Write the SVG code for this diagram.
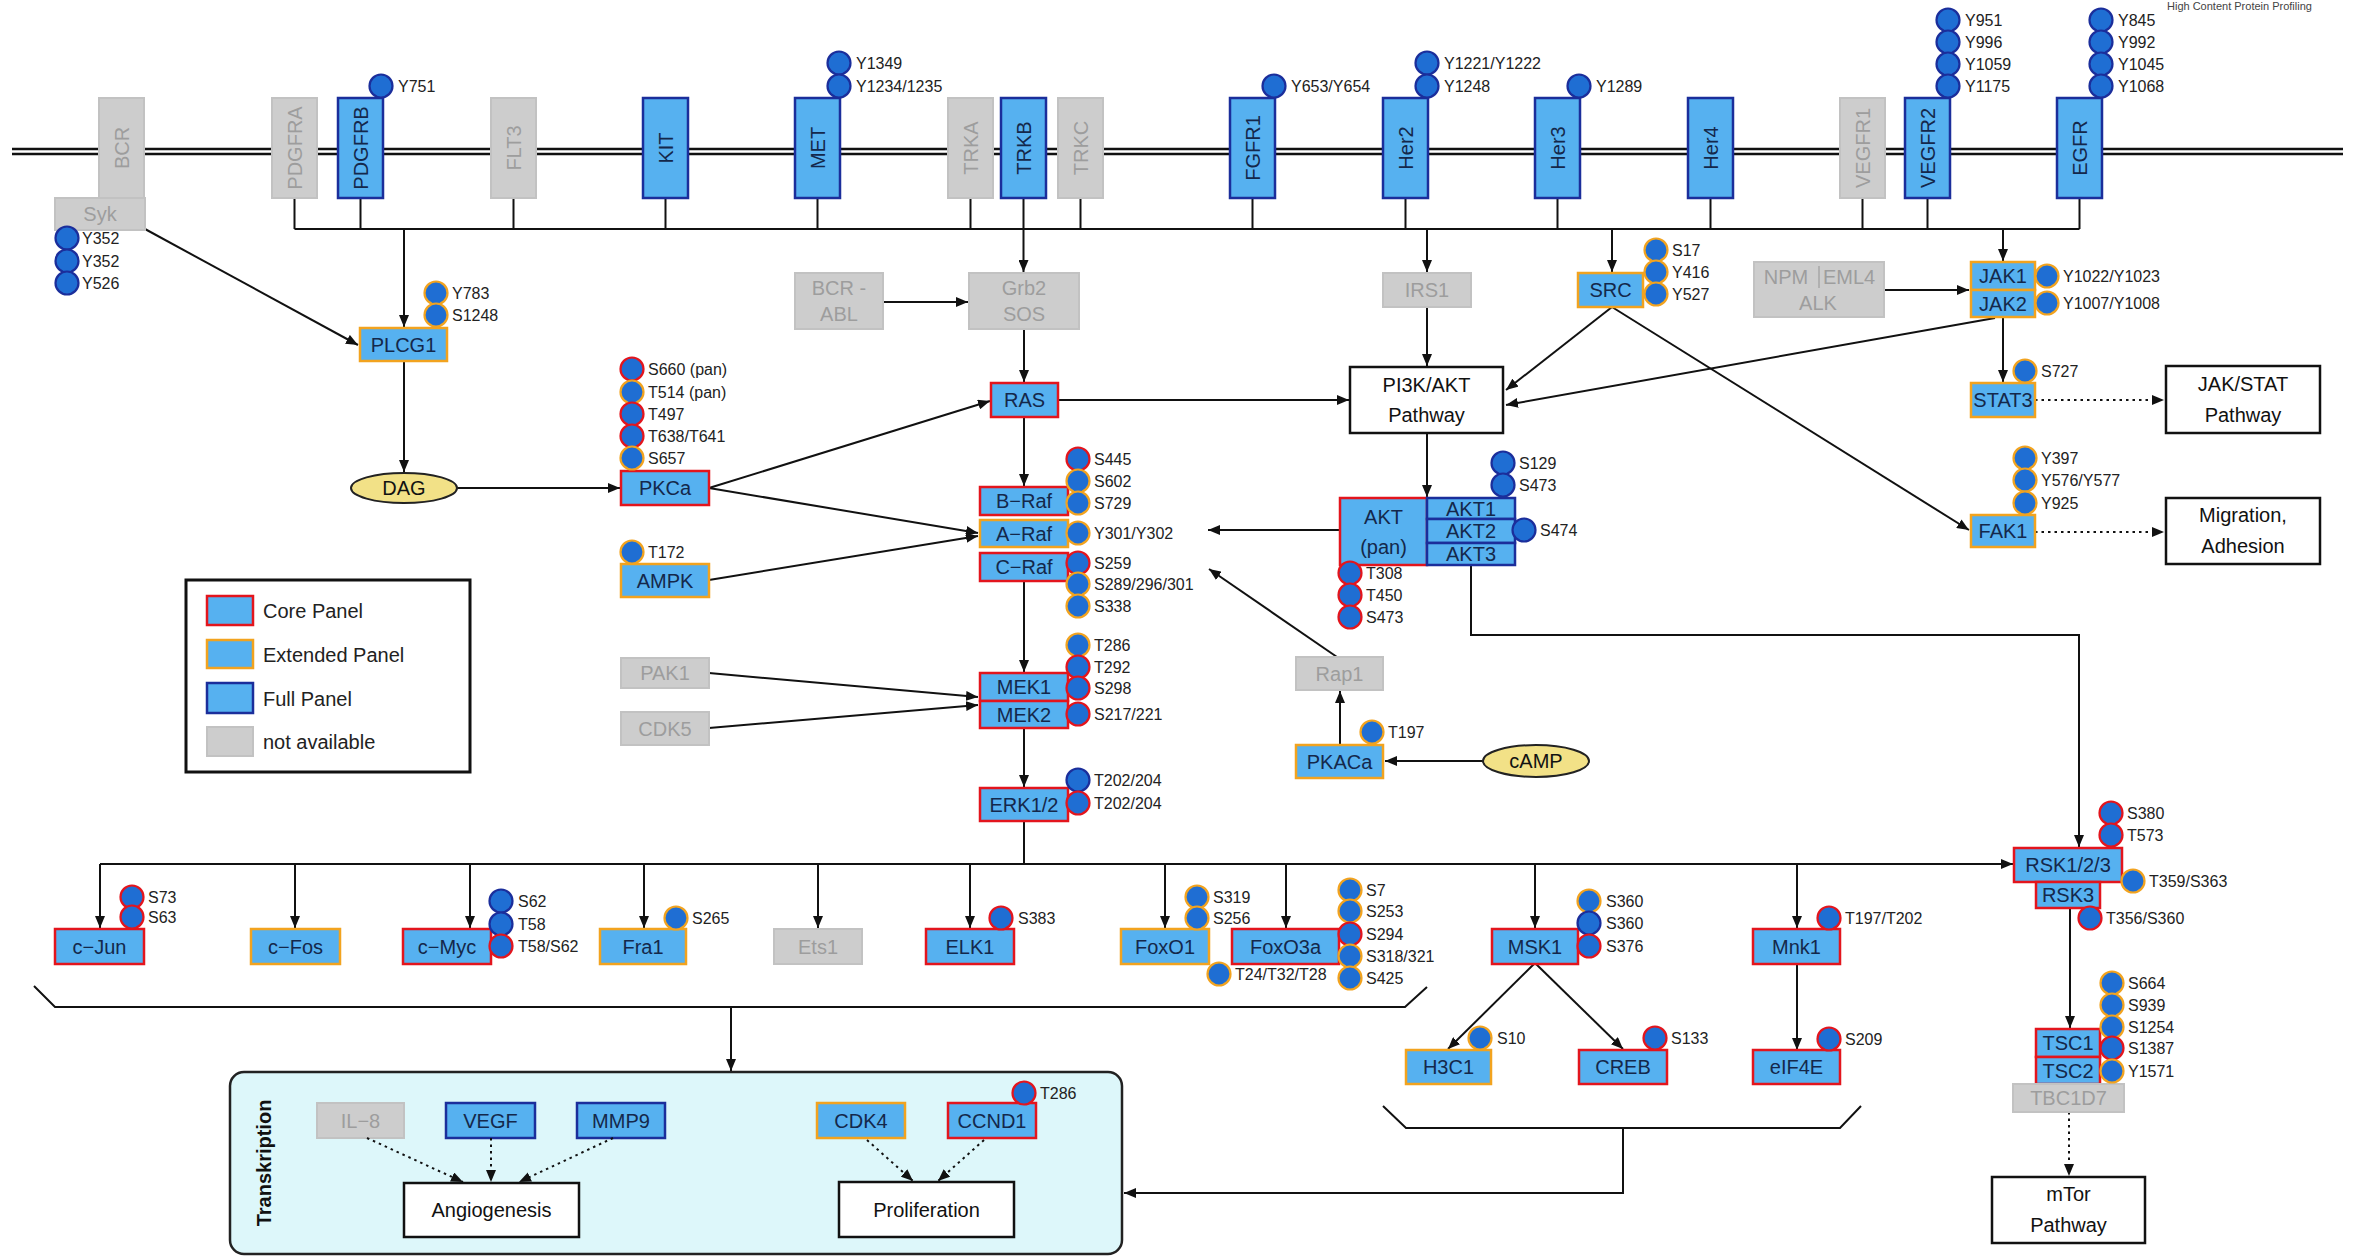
<svg xmlns="http://www.w3.org/2000/svg" width="2354" height="1257" viewBox="0 0 2354 1257">
<defs>
<marker id="ah" viewBox="0 0 12 10" refX="12" refY="5" markerWidth="12" markerHeight="10" markerUnits="userSpaceOnUse" orient="auto"><path d="M0,0 L12,5 L0,10 z" fill="#111"/></marker>
<style>
text{font-family:"Liberation Sans",Arial,Helvetica,sans-serif}
.bx{fill:#56b1f0;stroke-width:2.5}
.core{stroke:#e3151d}
.ext{stroke:#f2a31f}
.full{stroke:#1b2e9b}
.na{fill:#cdcdcd;stroke:#c2c2c2;stroke-width:2}
.pw{fill:#fff;stroke:#111;stroke-width:2.5}
.t{font-size:20px;fill:#14284b;text-anchor:middle;dominant-baseline:central}
.tg{fill:#9d9d9d}
.tb{fill:#111}
.s{font-size:16px;fill:#222;dominant-baseline:central}
.p{fill:#1f6ed3;stroke-width:2.2}
.pr{stroke:#e3151d}.po{stroke:#f2a31f}.pb{stroke:#1b2e9b}
.ln{stroke:#111;stroke-width:2;fill:none}
.ar{marker-end:url(#ah)}
.dt{stroke-dasharray:2.5 4}
.ell{fill:#f2e187;stroke:#222;stroke-width:2}
</style>
</defs>
<rect width="2354" height="1257" fill="#fff"/>
<text x="2167" y="10" style="font-size:11px;fill:#444">High Content Protein Profiling</text>

<g id="membrane">
<line x1="12" y1="149" x2="2343" y2="149" stroke="#111" stroke-width="2.5"/>
<line x1="12" y1="154" x2="2343" y2="154" stroke="#111" stroke-width="2.5"/>
</g>

<g id="connectors">
<line class="ln" x1="294.5" y1="198" x2="294.5" y2="229"/>
<line class="ln" x1="360.5" y1="198" x2="360.5" y2="229"/>
<line class="ln" x1="513.5" y1="198" x2="513.5" y2="229"/>
<line class="ln" x1="665.5" y1="198" x2="665.5" y2="229"/>
<line class="ln" x1="817.5" y1="198" x2="817.5" y2="229"/>
<line class="ln" x1="970.5" y1="198" x2="970.5" y2="229"/>
<line class="ln" x1="1080.5" y1="198" x2="1080.5" y2="229"/>
<line class="ln" x1="1252.5" y1="198" x2="1252.5" y2="229"/>
<line class="ln" x1="1405.5" y1="198" x2="1405.5" y2="229"/>
<line class="ln" x1="1557.5" y1="198" x2="1557.5" y2="229"/>
<line class="ln" x1="1710.5" y1="198" x2="1710.5" y2="229"/>
<line class="ln" x1="1862.5" y1="198" x2="1862.5" y2="229"/>
<line class="ln" x1="1927.5" y1="198" x2="1927.5" y2="229"/>
<line class="ln" x1="2079.5" y1="198" x2="2079.5" y2="229"/>
<line class="ln" x1="294.5" y1="229" x2="2079.5" y2="229"/>
<line class="ln ar" x1="145" y1="229" x2="358" y2="345"/>
<line class="ln ar" x1="404" y1="229" x2="404" y2="327"/>
<line class="ln ar" x1="404" y1="361" x2="404" y2="472"/>
<line class="ln ar" x1="457" y1="488" x2="620" y2="488"/>
<line class="ln ar" x1="1023.5" y1="198" x2="1023.5" y2="272"/>
<line class="ln ar" x1="883" y1="302" x2="968" y2="302"/>
<line class="ln ar" x1="1024" y1="329" x2="1024" y2="382"/>
<line class="ln ar" x1="1058" y1="400" x2="1349" y2="400"/>
<line class="ln ar" x1="709" y1="488" x2="990" y2="401"/>
<line class="ln ar" x1="709" y1="488" x2="978" y2="533"/>
<line class="ln ar" x1="709" y1="580" x2="978" y2="536"/>
<line class="ln ar" x1="1024" y1="417" x2="1024" y2="486"/>
<line class="ln ar" x1="1024" y1="581" x2="1024" y2="672"/>
<line class="ln ar" x1="709" y1="673" x2="978" y2="697"/>
<line class="ln ar" x1="709" y1="728" x2="978" y2="705"/>
<line class="ln ar" x1="1024" y1="728" x2="1024" y2="787"/>
<line class="ln" x1="1024" y1="821" x2="1024" y2="864"/>
<line class="ln ar" x1="100" y1="864" x2="2013" y2="864"/>
<line class="ln ar" x1="100" y1="864" x2="100" y2="928"/>
<line class="ln ar" x1="295" y1="864" x2="295" y2="928"/>
<line class="ln ar" x1="470" y1="864" x2="470" y2="928"/>
<line class="ln ar" x1="644" y1="864" x2="644" y2="928"/>
<line class="ln ar" x1="818" y1="864" x2="818" y2="928"/>
<line class="ln ar" x1="970" y1="864" x2="970" y2="928"/>
<line class="ln ar" x1="1165" y1="864" x2="1165" y2="928"/>
<line class="ln ar" x1="1286" y1="864" x2="1286" y2="928"/>
<line class="ln ar" x1="1535" y1="864" x2="1535" y2="928"/>
<line class="ln ar" x1="1797" y1="864" x2="1797" y2="928"/>
<line class="ln ar" x1="1427" y1="229" x2="1427" y2="272"/>
<line class="ln ar" x1="1427" y1="307" x2="1427" y2="366"/>
<line class="ln ar" x1="1612" y1="229" x2="1612" y2="272"/>
<line class="ln ar" x1="1612" y1="307" x2="1506" y2="390"/>
<line class="ln ar" x1="1995" y1="318" x2="1506" y2="405"/>
<line class="ln ar" x1="1612" y1="307" x2="1969" y2="530"/>
<line class="ln ar" x1="2003" y1="229" x2="2003" y2="261"/>
<line class="ln ar" x1="1884" y1="290" x2="1969" y2="290"/>
<line class="ln ar" x1="2003" y1="317" x2="2003" y2="382"/>
<line class="ln ar dt" x1="2035" y1="400" x2="2164" y2="400"/>
<line class="ln ar dt" x1="2035" y1="532" x2="2164" y2="532"/>
<line class="ln ar" x1="1427" y1="433" x2="1427" y2="497"/>
<line class="ln ar" x1="1340" y1="530" x2="1208" y2="530"/>
<line class="ln ar" x1="1337" y1="657" x2="1209" y2="569"/>
<line class="ln ar" x1="1340" y1="745" x2="1340" y2="691"/>
<line class="ln ar" x1="1483" y1="761" x2="1385" y2="761"/>
<polyline class="ln ar" points="1471,565 1471,635 2079,635 2079,847"/>
<line class="ln ar" x1="2070" y1="908" x2="2070" y2="1028"/>
<line class="ln ar dt" x1="2069" y1="1112" x2="2069" y2="1176"/>
<line class="ln ar" x1="1535" y1="963" x2="1448" y2="1049"/>
<line class="ln ar" x1="1535" y1="963" x2="1623" y2="1049"/>
<line class="ln ar" x1="1797" y1="963" x2="1797" y2="1050"/>
<polyline class="ln" points="34,986 55,1007 1405,1007 1427,987"/>
<line class="ln ar" x1="731" y1="1007" x2="731" y2="1071"/>
<polyline class="ln" points="1383,1106 1406,1128 1840,1128 1861,1106"/>
<polyline class="ln ar" points="1623,1128 1623,1193 1124,1193"/>
</g>

<g id="legend">
<rect x="186" y="580" width="284" height="192" fill="#fff" stroke="#111" stroke-width="3"/>
<rect class="bx core" x="207" y="596" width="46" height="29"/>
<rect class="bx ext" x="207" y="640" width="46" height="28"/>
<rect class="bx full" x="207" y="683" width="46" height="30"/>
<rect class="na" x="207" y="727" width="46" height="29"/>
<text class="s" x="263" y="611" style="font-size:20px">Core Panel</text>
<text class="s" x="263" y="655" style="font-size:20px">Extended Panel</text>
<text class="s" x="263" y="699" style="font-size:20px">Full Panel</text>
<text class="s" x="263" y="742" style="font-size:20px">not available</text>
</g>

<g id="BCR"><rect class="na" x="99" y="98" width="45" height="100"/><text class="t tg" transform="translate(121.5,148) rotate(-90)">BCR</text></g>
<g id="Syk"><rect class="na" x="55" y="198" width="90" height="32"/><text class="t tg" x="100" y="214">Syk</text>
<circle class="p pb" cx="67" cy="238" r="11.5"/><circle class="p pb" cx="67" cy="261" r="11.5"/><circle class="p pb" cx="67" cy="283" r="11.5"/>
<text class="s" x="82" y="238">Y352</text><text class="s" x="82" y="261">Y352</text><text class="s" x="82" y="283">Y526</text></g>
<g id="PDGFRA"><rect class="na" x="272" y="98" width="45" height="100"/><text class="t tg" transform="translate(294.5,148) rotate(-90)">PDGFRA</text></g>
<g id="PDGFRB"><rect class="bx full" x="338" y="98" width="45" height="100"/><text class="t" transform="translate(360.5,148) rotate(-90)">PDGFRB</text>
<circle class="p pb" cx="381" cy="86" r="11.5"/><text class="s" x="398" y="86">Y751</text></g>
<g id="FLT3"><rect class="na" x="491" y="98" width="45" height="100"/><text class="t tg" transform="translate(513.5,148) rotate(-90)">FLT3</text></g>
<g id="KIT"><rect class="bx full" x="643" y="98" width="45" height="100"/><text class="t" transform="translate(665.5,148) rotate(-90)">KIT</text></g>
<g id="MET"><rect class="bx full" x="795" y="98" width="45" height="100"/><text class="t" transform="translate(817.5,148) rotate(-90)">MET</text>
<circle class="p pb" cx="839" cy="63" r="11.5"/><circle class="p pb" cx="839" cy="86" r="11.5"/>
<text class="s" x="856" y="63">Y1349</text><text class="s" x="856" y="86">Y1234/1235</text></g>
<g id="TRKA"><rect class="na" x="948" y="98" width="45" height="100"/><text class="t tg" transform="translate(970.5,148) rotate(-90)">TRKA</text></g>
<g id="TRKB"><rect class="bx full" x="1001" y="98" width="45" height="100"/><text class="t" transform="translate(1023.5,148) rotate(-90)">TRKB</text></g>
<g id="TRKC"><rect class="na" x="1058" y="98" width="45" height="100"/><text class="t tg" transform="translate(1080.5,148) rotate(-90)">TRKC</text></g>
<g id="FGFR1"><rect class="bx full" x="1230" y="98" width="45" height="100"/><text class="t" transform="translate(1252.5,148) rotate(-90)">FGFR1</text>
<circle class="p pb" cx="1274" cy="86" r="11.5"/><text class="s" x="1291" y="86">Y653/Y654</text></g>
<g id="Her2"><rect class="bx full" x="1383" y="98" width="45" height="100"/><text class="t" transform="translate(1405.5,148) rotate(-90)">Her2</text>
<circle class="p pb" cx="1427" cy="63" r="11.5"/><circle class="p pb" cx="1427" cy="86" r="11.5"/>
<text class="s" x="1444" y="63">Y1221/Y1222</text><text class="s" x="1444" y="86">Y1248</text></g>
<g id="Her3"><rect class="bx full" x="1535" y="98" width="45" height="100"/><text class="t" transform="translate(1557.5,148) rotate(-90)">Her3</text>
<circle class="p pb" cx="1579" cy="86" r="11.5"/><text class="s" x="1596" y="86">Y1289</text></g>
<g id="Her4"><rect class="bx full" x="1688" y="98" width="45" height="100"/><text class="t" transform="translate(1710.5,148) rotate(-90)">Her4</text></g>
<g id="VEGFR1"><rect class="na" x="1840" y="98" width="45" height="100"/><text class="t tg" transform="translate(1862.5,148) rotate(-90)">VEGFR1</text></g>
<g id="VEGFR2"><rect class="bx full" x="1905" y="98" width="45" height="100"/><text class="t" transform="translate(1927.5,148) rotate(-90)">VEGFR2</text>
<circle class="p pb" cx="1948" cy="20" r="11.5"/><circle class="p pb" cx="1948" cy="42" r="11.5"/><circle class="p pb" cx="1948" cy="64" r="11.5"/><circle class="p pb" cx="1948" cy="86" r="11.5"/>
<text class="s" x="1965" y="20">Y951</text><text class="s" x="1965" y="42">Y996</text><text class="s" x="1965" y="64">Y1059</text><text class="s" x="1965" y="86">Y1175</text></g>
<g id="EGFR"><rect class="bx full" x="2057" y="98" width="45" height="100"/><text class="t" transform="translate(2079.5,148) rotate(-90)">EGFR</text>
<circle class="p pb" cx="2101" cy="20" r="11.5"/><circle class="p pb" cx="2101" cy="42" r="11.5"/><circle class="p pb" cx="2101" cy="64" r="11.5"/><circle class="p pb" cx="2101" cy="86" r="11.5"/>
<text class="s" x="2118" y="20">Y845</text><text class="s" x="2118" y="42">Y992</text><text class="s" x="2118" y="64">Y1045</text><text class="s" x="2118" y="86">Y1068</text></g>

<g id="PLCG1"><rect class="bx ext" x="360" y="328" width="87" height="33"/><text class="t" x="403.5" y="345">PLCG1</text>
<circle class="p po" cx="436" cy="293" r="11.5"/><circle class="p po" cx="436" cy="315" r="11.5"/>
<text class="s" x="452" y="293">Y783</text><text class="s" x="452" y="315">S1248</text></g>
<g id="DAG"><ellipse class="ell" cx="404" cy="488" rx="53" ry="15"/><text class="t tb" x="404" y="488">DAG</text></g>
<g id="BCR-ABL"><rect class="na" x="795" y="273" width="88" height="56"/><text class="t tg" x="839" y="288">BCR -</text><text class="t tg" x="839" y="314">ABL</text></g>
<g id="Grb2SOS"><rect class="na" x="969" y="273" width="110" height="56"/><text class="t tg" x="1024" y="288">Grb2</text><text class="t tg" x="1024" y="314">SOS</text></g>
<g id="RAS"><rect class="bx core" x="991" y="383" width="67" height="34"/><text class="t" x="1024.5" y="400">RAS</text></g>
<g id="PKCa"><rect class="bx core" x="621" y="471" width="88" height="34"/><text class="t" x="665" y="488">PKCa</text>
<circle class="p pr" cx="632" cy="369" r="11.5"/><circle class="p po" cx="632" cy="392" r="11.5"/><circle class="p pr" cx="632" cy="414" r="11.5"/><circle class="p pr" cx="632" cy="436" r="11.5"/><circle class="p po" cx="632" cy="458" r="11.5"/>
<text class="s" x="648" y="369">S660 (pan)</text><text class="s" x="648" y="392">T514 (pan)</text><text class="s" x="648" y="414">T497</text><text class="s" x="648" y="436">T638/T641</text><text class="s" x="648" y="458">S657</text></g>
<g id="AMPK"><rect class="bx ext" x="621" y="564" width="88" height="33"/><text class="t" x="665" y="581">AMPK</text>
<circle class="p po" cx="632" cy="552" r="11.5"/><text class="s" x="648" y="552">T172</text></g>
<g id="Raf">
<rect class="bx core" x="980" y="487" width="88" height="28"/><text class="t" x="1024" y="501">B−Raf</text>
<rect class="bx ext" x="980" y="520" width="88" height="27"/><text class="t" x="1024" y="534">A−Raf</text>
<rect class="bx core" x="980" y="553" width="88" height="28"/><text class="t" x="1024" y="567">C−Raf</text>
<circle class="p pr" cx="1078" cy="459" r="11.5"/><circle class="p po" cx="1078" cy="481" r="11.5"/><circle class="p po" cx="1078" cy="503" r="11.5"/><circle class="p po" cx="1078" cy="533" r="11.5"/><circle class="p pr" cx="1078" cy="563" r="11.5"/><circle class="p po" cx="1078" cy="584" r="11.5"/><circle class="p po" cx="1078" cy="606" r="11.5"/>
<text class="s" x="1094" y="459">S445</text><text class="s" x="1094" y="481">S602</text><text class="s" x="1094" y="503">S729</text><text class="s" x="1094" y="533">Y301/Y302</text><text class="s" x="1094" y="563">S259</text><text class="s" x="1094" y="584">S289/296/301</text><text class="s" x="1094" y="606">S338</text></g>
<g id="PAK1"><rect class="na" x="621" y="658" width="88" height="30"/><text class="t tg" x="665" y="673">PAK1</text></g>
<g id="CDK5"><rect class="na" x="621" y="712" width="88" height="33"/><text class="t tg" x="665" y="728.5">CDK5</text></g>
<g id="MEK">
<rect class="bx core" x="980" y="673" width="88" height="28"/><text class="t" x="1024" y="687">MEK1</text>
<rect class="bx core" x="980" y="701" width="88" height="27"/><text class="t" x="1024" y="714.5">MEK2</text>
<circle class="p po" cx="1078" cy="645" r="11.5"/><circle class="p pr" cx="1078" cy="667" r="11.5"/><circle class="p pr" cx="1078" cy="688" r="11.5"/><circle class="p pr" cx="1078" cy="714" r="11.5"/>
<text class="s" x="1094" y="645">T286</text><text class="s" x="1094" y="667">T292</text><text class="s" x="1094" y="688">S298</text><text class="s" x="1094" y="714">S217/221</text></g>
<g id="ERK"><rect class="bx core" x="980" y="788" width="88" height="33"/><text class="t" x="1024" y="804.5">ERK1/2</text>
<circle class="p pb" cx="1078" cy="780" r="11.5"/><circle class="p pr" cx="1078" cy="803" r="11.5"/>
<text class="s" x="1094" y="780">T202/204</text><text class="s" x="1094" y="803">T202/204</text></g>
<g id="IRS1"><rect class="na" x="1383" y="273" width="88" height="34"/><text class="t tg" x="1427" y="290">IRS1</text></g>
<g id="SRC"><rect class="bx ext" x="1578" y="273" width="65" height="34"/><text class="t" x="1610.5" y="290">SRC</text>
<circle class="p po" cx="1656" cy="250" r="11.5"/><circle class="p po" cx="1656" cy="272" r="11.5"/><circle class="p po" cx="1656" cy="294" r="11.5"/>
<text class="s" x="1672" y="250">S17</text><text class="s" x="1672" y="272">Y416</text><text class="s" x="1672" y="294">Y527</text></g>
<g id="PI3K"><rect class="pw" x="1350" y="367" width="153" height="66"/><text class="t tb" x="1426.5" y="385">PI3K/AKT</text><text class="t tb" x="1426.5" y="415">Pathway</text></g>
<g id="NPM-ALK"><rect class="na" x="1754" y="262" width="130" height="55"/><line x1="1819" y1="266" x2="1819" y2="288" stroke="#b0b0b0" stroke-width="2"/>
<text class="t tg" x="1786" y="277">NPM</text><text class="t tg" x="1849" y="277">EML4</text><text class="t tg" x="1818" y="303">ALK</text></g>
<g id="JAK"><rect class="bx ext" x="1971" y="262" width="64" height="28"/><text class="t" x="2003" y="276">JAK1</text>
<rect class="bx ext" x="1971" y="290" width="64" height="27"/><text class="t" x="2003" y="303.5">JAK2</text>
<circle class="p po" cx="2047" cy="276" r="11.5"/><circle class="p po" cx="2047" cy="303" r="11.5"/>
<text class="s" x="2063" y="276">Y1022/Y1023</text><text class="s" x="2063" y="303">Y1007/Y1008</text></g>
<g id="STAT3"><rect class="bx ext" x="1971" y="383" width="64" height="34"/><text class="t" x="2003" y="400">STAT3</text>
<circle class="p po" cx="2025" cy="371" r="11.5"/><text class="s" x="2041" y="371">S727</text></g>
<g id="JAKSTAT"><rect class="pw" x="2166" y="366" width="154" height="67"/><text class="t tb" x="2243" y="384">JAK/STAT</text><text class="t tb" x="2243" y="415">Pathway</text></g>
<g id="FAK1"><rect class="bx ext" x="1971" y="515" width="64" height="32"/><text class="t" x="2003" y="531">FAK1</text>
<circle class="p po" cx="2025" cy="458" r="11.5"/><circle class="p po" cx="2025" cy="480" r="11.5"/><circle class="p po" cx="2025" cy="503" r="11.5"/>
<text class="s" x="2041" y="458">Y397</text><text class="s" x="2041" y="480">Y576/Y577</text><text class="s" x="2041" y="503">Y925</text></g>
<g id="Migration"><rect class="pw" x="2166" y="498" width="154" height="66"/><text class="t tb" x="2243" y="515">Migration,</text><text class="t tb" x="2243" y="546">Adhesion</text></g>
<g id="AKT">
<rect class="bx core" x="1340" y="498" width="87" height="67"/><text class="t" x="1383.5" y="517">AKT</text><text class="t" x="1383.5" y="547">(pan)</text>
<rect class="bx full" x="1427" y="498" width="88" height="21"/><text class="t" x="1471" y="509">AKT1</text>
<rect class="bx full" x="1427" y="519" width="88" height="24"/><text class="t" x="1471" y="531">AKT2</text>
<rect class="bx full" x="1427" y="543" width="88" height="22"/><text class="t" x="1471" y="554">AKT3</text>
<circle class="p pb" cx="1503" cy="463" r="11.5"/><circle class="p pb" cx="1503" cy="485" r="11.5"/><circle class="p pb" cx="1524" cy="530" r="11.5"/>
<circle class="p pr" cx="1350" cy="573" r="11.5"/><circle class="p pr" cx="1350" cy="595" r="11.5"/><circle class="p pr" cx="1350" cy="617" r="11.5"/>
<text class="s" x="1519" y="463">S129</text><text class="s" x="1519" y="485">S473</text><text class="s" x="1540" y="530">S474</text>
<text class="s" x="1366" y="573">T308</text><text class="s" x="1366" y="595">T450</text><text class="s" x="1366" y="617">S473</text></g>
<g id="Rap1"><rect class="na" x="1296" y="657" width="87" height="33"/><text class="t tg" x="1339.5" y="673.5">Rap1</text></g>
<g id="PKACa"><rect class="bx ext" x="1296" y="745" width="87" height="33"/><text class="t" x="1339.5" y="761.5">PKACa</text>
<circle class="p po" cx="1372" cy="732" r="11.5"/><text class="s" x="1388" y="732">T197</text></g>
<g id="cAMP"><ellipse class="ell" cx="1536" cy="761" rx="53" ry="16"/><text class="t tb" x="1536" y="761">cAMP</text></g>
<g id="RSK"><rect class="bx core" x="2014" y="848" width="108" height="34"/><text class="t" x="2068" y="865">RSK1/2/3</text>
<rect class="bx core" x="2036" y="882" width="64" height="26"/><text class="t" x="2068" y="895">RSK3</text>
<circle class="p pr" cx="2111" cy="813" r="11.5"/><circle class="p pr" cx="2111" cy="835" r="11.5"/><circle class="p po" cx="2133" cy="881" r="11.5"/><circle class="p pr" cx="2090" cy="918" r="11.5"/>
<text class="s" x="2127" y="813">S380</text><text class="s" x="2127" y="835">T573</text><text class="s" x="2149" y="881">T359/S363</text><text class="s" x="2106" y="918">T356/S360</text></g>
<g id="TSC"><rect class="bx core" x="2036" y="1029" width="64" height="28"/><text class="t" x="2068" y="1043">TSC1</text>
<rect class="bx core" x="2036" y="1057" width="64" height="27"/><text class="t" x="2068" y="1070.5">TSC2</text>
<rect class="na" x="2013" y="1084" width="111" height="28"/><text class="t tg" x="2068.5" y="1098">TBC1D7</text>
<circle class="p po" cx="2112" cy="983" r="11.5"/><circle class="p po" cx="2112" cy="1005" r="11.5"/><circle class="p po" cx="2112" cy="1027" r="11.5"/><circle class="p pr" cx="2112" cy="1048" r="11.5"/><circle class="p po" cx="2112" cy="1071" r="11.5"/>
<text class="s" x="2128" y="983">S664</text><text class="s" x="2128" y="1005">S939</text><text class="s" x="2128" y="1027">S1254</text><text class="s" x="2128" y="1048">S1387</text><text class="s" x="2128" y="1071">Y1571</text></g>
<g id="mTor"><rect class="pw" x="1992" y="1177" width="153" height="66"/><text class="t tb" x="2068.5" y="1194">mTor</text><text class="t tb" x="2068.5" y="1225">Pathway</text></g>

<g id="cJun"><rect class="bx core" x="55" y="929" width="89" height="35"/><text class="t" x="99.5" y="946.5">c−Jun</text>
<circle class="p pr" cx="132" cy="897" r="11.5"/><circle class="p pr" cx="132" cy="917" r="11.5"/>
<text class="s" x="148" y="897">S73</text><text class="s" x="148" y="917">S63</text></g>
<g id="cFos"><rect class="bx ext" x="251" y="929" width="89" height="35"/><text class="t" x="295.5" y="946.5">c−Fos</text></g>
<g id="cMyc"><rect class="bx core" x="403" y="929" width="88" height="35"/><text class="t" x="447" y="946.5">c−Myc</text>
<circle class="p pb" cx="501" cy="901" r="11.5"/><circle class="p pb" cx="501" cy="924" r="11.5"/><circle class="p pr" cx="501" cy="946" r="11.5"/>
<text class="s" x="518" y="901">S62</text><text class="s" x="518" y="924">T58</text><text class="s" x="518" y="946">T58/S62</text></g>
<g id="Fra1"><rect class="bx ext" x="600" y="929" width="86" height="35"/><text class="t" x="643" y="946.5">Fra1</text>
<circle class="p po" cx="676" cy="918" r="11.5"/><text class="s" x="692" y="918">S265</text></g>
<g id="Ets1"><rect class="na" x="774" y="929" width="88" height="35"/><text class="t tg" x="818" y="946.5">Ets1</text></g>
<g id="ELK1"><rect class="bx core" x="926" y="929" width="88" height="35"/><text class="t" x="970" y="946.5">ELK1</text>
<circle class="p pr" cx="1001" cy="918" r="11.5"/><text class="s" x="1018" y="918">S383</text></g>
<g id="FoxO1"><rect class="bx ext" x="1121" y="929" width="88" height="35"/><text class="t" x="1165" y="946.5">FoxO1</text>
<circle class="p po" cx="1197" cy="897" r="11.5"/><circle class="p po" cx="1197" cy="918" r="11.5"/><circle class="p po" cx="1219" cy="974" r="11.5"/>
<text class="s" x="1213" y="897">S319</text><text class="s" x="1213" y="918">S256</text><text class="s" x="1235" y="974">T24/T32/T28</text></g>
<g id="FoxO3a"><rect class="bx core" x="1232" y="929" width="107" height="35"/><text class="t" x="1285.5" y="946.5">FoxO3a</text>
<circle class="p po" cx="1350" cy="890" r="11.5"/><circle class="p po" cx="1350" cy="911" r="11.5"/><circle class="p pr" cx="1350" cy="934" r="11.5"/><circle class="p po" cx="1350" cy="956" r="11.5"/><circle class="p po" cx="1350" cy="978" r="11.5"/>
<text class="s" x="1366" y="890">S7</text><text class="s" x="1366" y="911">S253</text><text class="s" x="1366" y="934">S294</text><text class="s" x="1366" y="956">S318/321</text><text class="s" x="1366" y="978">S425</text></g>
<g id="MSK1"><rect class="bx core" x="1492" y="929" width="86" height="35"/><text class="t" x="1535" y="946.5">MSK1</text>
<circle class="p po" cx="1589" cy="901" r="11.5"/><circle class="p pb" cx="1589" cy="923" r="11.5"/><circle class="p pr" cx="1589" cy="946" r="11.5"/>
<text class="s" x="1606" y="901">S360</text><text class="s" x="1606" y="923">S360</text><text class="s" x="1606" y="946">S376</text></g>
<g id="Mnk1"><rect class="bx core" x="1753" y="929" width="87" height="35"/><text class="t" x="1796.5" y="946.5">Mnk1</text>
<circle class="p pr" cx="1829" cy="918" r="11.5"/><text class="s" x="1845" y="918">T197/T202</text></g>
<g id="H3C1"><rect class="bx ext" x="1406" y="1050" width="85" height="34"/><text class="t" x="1448.5" y="1067">H3C1</text>
<circle class="p po" cx="1480" cy="1038" r="11.5"/><text class="s" x="1497" y="1038">S10</text></g>
<g id="CREB"><rect class="bx core" x="1579" y="1050" width="88" height="34"/><text class="t" x="1623" y="1067">CREB</text>
<circle class="p pr" cx="1655" cy="1038" r="11.5"/><text class="s" x="1671" y="1038">S133</text></g>
<g id="eIF4E"><rect class="bx core" x="1753" y="1050" width="87" height="34"/><text class="t" x="1796.5" y="1067">eIF4E</text>
<circle class="p pr" cx="1829" cy="1039" r="11.5"/><text class="s" x="1845" y="1039">S209</text></g>

<g id="Transkription">
<rect x="230" y="1072" width="892" height="182" rx="14" fill="#ddf7fa" stroke="#222" stroke-width="2.5"/>
<text class="t tb" transform="translate(264,1163) rotate(-90)" style="font-weight:bold">Transkription</text>
<g id="IL8"><rect class="na" x="317" y="1103" width="87" height="35"/><text class="t tg" x="360.5" y="1120.5">IL−8</text></g>
<g id="VEGF"><rect class="bx full" x="446" y="1103" width="89" height="35"/><text class="t" x="490.5" y="1120.5">VEGF</text></g>
<g id="MMP9"><rect class="bx full" x="577" y="1103" width="88" height="35"/><text class="t" x="621" y="1120.5">MMP9</text></g>
<g id="CDK4"><rect class="bx ext" x="817" y="1103" width="88" height="35"/><text class="t" x="861" y="1120.5">CDK4</text></g>
<g id="CCND1"><rect class="bx core" x="948" y="1103" width="88" height="35"/><text class="t" x="992" y="1120.5">CCND1</text>
<circle class="p pr" cx="1024" cy="1093" r="11.5"/><text class="s" x="1040" y="1093">T286</text></g>
<g id="Angiogenesis"><rect class="pw" x="404" y="1183" width="175" height="54"/><text class="t tb" x="491.5" y="1210">Angiogenesis</text></g>
<g id="Proliferation"><rect class="pw" x="839" y="1182" width="175" height="55"/><text class="t tb" x="926.5" y="1209.5">Proliferation</text></g>
<g id="tx-connectors">
<line class="ln ar dt" x1="367" y1="1138" x2="463" y2="1182"/>
<line class="ln ar dt" x1="491" y1="1138" x2="491" y2="1182"/>
<line class="ln ar dt" x1="613" y1="1138" x2="519" y2="1182"/>
<line class="ln ar dt" x1="867" y1="1140" x2="913" y2="1181"/>
<line class="ln ar dt" x1="984" y1="1140" x2="938" y2="1181"/>
</g>
</g>
</svg>
